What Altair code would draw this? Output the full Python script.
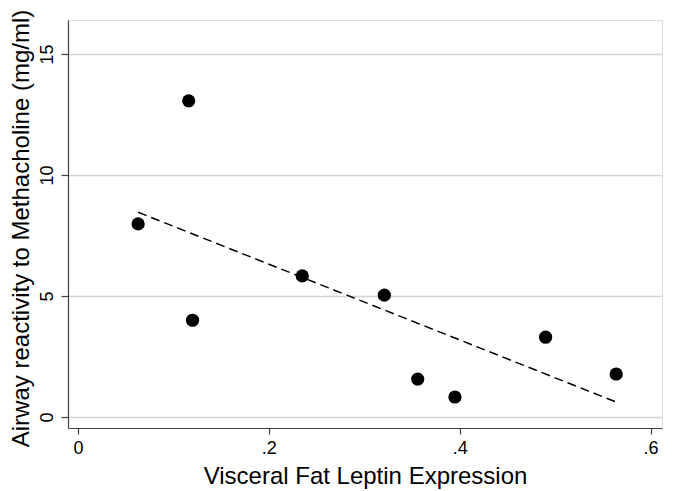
import altair as alt
import pandas as pd

leptin = [0.063, 0.116, 0.120, 0.235, 0.321, 0.356, 0.395, 0.490, 0.564]
reactivity = [7.98, 13.06, 4.00, 5.83, 5.04, 1.57, 0.83, 3.30, 1.78]

df = pd.DataFrame({"x": leptin, "y": reactivity})

FONT = "Liberation Sans"

xs = alt.Scale(domain=[-0.0105, 0.612], nice=False, zero=False)
ys = alt.Scale(domain=[-0.45, 16.4], nice=False, zero=False)

xaxis = alt.Axis(
    values=[0, 0.2, 0.4, 0.6],
    labelExpr="datum.value == 0 ? '0' : replace(format(datum.value, '.1f'), '0.', '.')",
    title="Visceral Fat Leptin Expression",
    grid=False,
    domainColor="#404040", domainWidth=1.2,
    tickColor="#404040", tickSize=6, tickWidth=1.2,
    labelFont=FONT, labelFontSize=18, labelColor="#000000", labelPadding=5,
    titleFont=FONT, titleFontSize=24, titleFontWeight="normal", titleColor="#000000",
    titlePadding=7,
)
yaxis = alt.Axis(
    values=[0, 5, 10, 15],
    title="Airway reactivity to Methacholine (mg/ml)",
    titleY=208,
    grid=True, gridColor="#d4d4d4", gridWidth=1.6,
    domainColor="#404040", domainWidth=1.2,
    tickColor="#404040", tickSize=7, tickWidth=1.2,
    labelFont=FONT, labelFontSize=18, labelColor="#000000", labelAngle=270,
    labelAlign="center", labelBaseline="bottom", labelPadding=5,
    titleFont=FONT, titleFontSize=24, titleFontWeight="normal", titleColor="#000000",
    titlePadding=5,
)

points = alt.Chart(df).mark_circle(size=175, color="black", opacity=1).encode(
    x=alt.X("x:Q", scale=xs, axis=xaxis),
    y=alt.Y("y:Q", scale=ys, axis=yaxis),
)

fit = alt.Chart(df).transform_regression(
    "x", "y", method="linear", extent=[0.063, 0.564]
).mark_line(color="black", strokeDash=[9, 5], strokeWidth=1.5).encode(
    x=alt.X("x:Q", scale=xs),
    y=alt.Y("y:Q", scale=ys),
)

chart = alt.layer(points, fit).properties(
    width=594, height=408,
    autosize=alt.AutoSizeParams(type="none"),
    padding={"left": 60, "top": 12, "right": 10, "bottom": 63},
).configure_view(stroke=None).configure(background="white")

chart.save("out.html", embed_options={"renderer": "svg", "actions": False})
